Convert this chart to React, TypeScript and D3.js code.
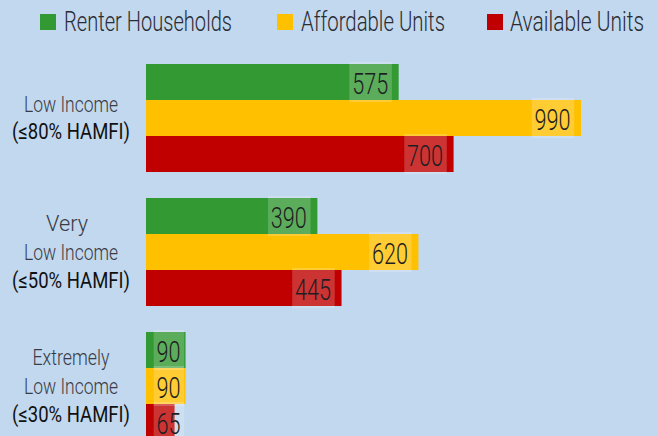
import React from "react";
import * as d3 from "d3";

const categories: string[][] = [
  ["Low Income", "(≤80% HAMFI)"],
  ["Very", "Low Income", "(≤50% HAMFI)"],
  ["Extremely", "Low Income", "(≤30% HAMFI)"],
];
const seriesNames = ["Renter Households", "Affordable Units", "Available Units"];
const renterHouseholds = [575, 390, 90];
const affordableUnits = [990, 620, 90];
const availableUnits = [700, 445, 65];
const seriesValues = [renterHouseholds, affordableUnits, availableUnits];

const COLORS = ["#339933", "#ffc000", "#c00000"];
const BG = "#c1d8ee";
const W = 658;
const H = 436;
const FONT = "Roboto, 'Liberation Sans', 'DejaVu Sans', sans-serif";

// rendered widths of the condensed text (style table)
const textWidths: Record<string, number> = {
  "Renter Households": 168,
  "Affordable Units": 144,
  "Available Units": 134,
  "Low Income": 94,
  "Very": 42,
  "Extremely": 77,
  "(≤80% HAMFI)": 118,
  "(≤50% HAMFI)": 118,
  "(≤30% HAMFI)": 118,
};
const legendPos = [
  { sq: 40, tx: 64 },
  { sq: 277, tx: 301 },
  { sq: 487, tx: 510 },
];

export default function App() {
  const groupIds = categories.map((_, i) => String(i));
  const y = d3
    .scaleBand<string>()
    .domain(groupIds)
    .range([51, 51 + 134 * 3])
    .paddingInner(26 / 134)
    .paddingOuter(13 / 134);
  const yInner = d3
    .scaleBand<string>()
    .domain(seriesNames)
    .range([0, y.bandwidth()]);
  const x = d3.scaleLinear().domain([0, 1000]).range([146, 146 + 439.4]);

  const digitW = 12;
  const pad = 10.5;

  return (
    <svg
      width={W}
      height={H}
      style={{ position: "absolute", left: 0, top: 0, background: BG }}
      fontFamily={FONT}
    >
      <rect x={0} y={0} width={W} height={H} fill={BG} />
      {/* legend */}
      {seriesNames.map((s, i) => (
        <g key={s}>
          <rect x={legendPos[i].sq} y={14} width={16} height={16} fill={COLORS[i]} />
          <text
            x={legendPos[i].tx}
            y={30.5}
            fontSize={27.5}
            fontWeight={300}
            fill="#2a2b33"
            textLength={textWidths[s]}
            lengthAdjust="spacingAndGlyphs"
          >
            {s}
          </text>
        </g>
      ))}
      {/* category labels */}
      {categories.map((lines, gi) => {
        const cy = (y(String(gi)) as number) + y.bandwidth() / 2;
        const n = lines.length;
        const pitch = n === 2 ? 26.6 : 28.5;
        return (
          <g key={gi}>
            {lines.map((ln, li) => {
              const isH = ln.startsWith("(");
              const w = textWidths[ln] ?? 100;
              const cx = ln === "Very" ? 67 : 71;
              return (
                <text
                  key={li}
                  x={cx - w / 2}
                  y={cy + (li - (n - 1) / 2) * pitch + 7.5}
                  fontSize={22.5}
                  fontWeight={isH ? 400 : 300}
                  fill={isH ? "#111111" : "#3a3b45"}
                  textLength={w}
                  lengthAdjust="spacingAndGlyphs"
                >
                  {ln}
                </text>
              );
            })}
          </g>
        );
      })}
      {/* bars */}
      {categories.map((_, gi) => {
        const gy = y(String(gi)) as number;
        return (
          <g key={gi}>
            {seriesNames.map((s, si) => {
              const v = seriesValues[si][gi];
              const by = gy + (yInner(s) as number);
              const bh = yInner.bandwidth();
              return (
                <rect
                  key={s}
                  x={x(0)}
                  y={by}
                  width={x(v) - x(0)}
                  height={bh}
                  fill={COLORS[si]}
                />
              );
            })}
          </g>
        );
      })}
      {/* value labels */}
      {categories.map((_, gi) => {
        const gy = y(String(gi)) as number;
        return (
          <g key={gi}>
            {seriesNames.map((s, si) => {
              const v = seriesValues[si][gi];
              const label = String(v);
              const tw = label.length * digitW;
              const cy = gy + (yInner(s) as number) + yInner.bandwidth() / 2;
              let tx = x(v) - pad - tw;
              if (tx < x(0) + pad) tx = x(0) + pad;
              return (
                <g key={s}>
                  <rect
                    x={tx - 2.8}
                    y={cy - 20}
                    width={tw + 6.5}
                    height={40}
                    fill="#ffffff"
                    fillOpacity={0.2}
                  />
                  <text
                    x={tx}
                    y={cy + 12}
                    fontSize={29.5}
                    fontWeight={300}
                    fill="#1e1e22"
                    textLength={tw}
                    lengthAdjust="spacingAndGlyphs"
                  >
                    {label}
                  </text>
                </g>
              );
            })}
          </g>
        );
      })}
    </svg>
  );
}
